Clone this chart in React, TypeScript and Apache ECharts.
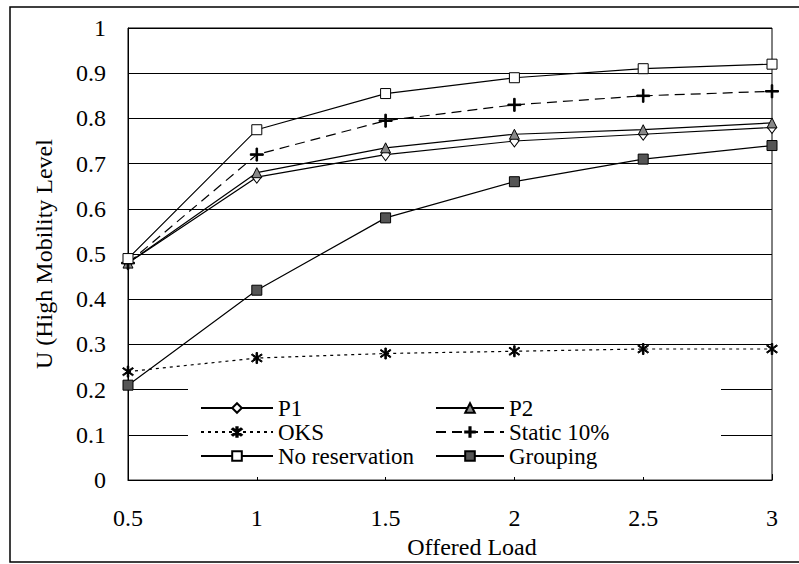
import React, { useEffect, useRef } from "react";
import * as echarts from "echarts";

// Offered load (x) and utilisation under high mobility (y) for each scheme
const offeredLoad = [0.5, 1, 1.5, 2, 2.5, 3];
const p1 = [0.48, 0.67, 0.72, 0.75, 0.765, 0.78];
const p2 = [0.48, 0.68, 0.735, 0.765, 0.775, 0.79];
const oks = [0.24, 0.27, 0.28, 0.285, 0.29, 0.29];
const static10 = [0.48, 0.72, 0.795, 0.83, 0.85, 0.86];
const noReservation = [0.49, 0.775, 0.855, 0.89, 0.91, 0.92];
const grouping = [0.21, 0.42, 0.58, 0.66, 0.71, 0.74];

const FONT = "'Liberation Serif', 'DejaVu Serif', serif";

const ASTERISK =
  "path://M4.4,0h1.2v10h-1.2zM0.6,2.1L1.4,1.3L9.4,7.9L8.6,8.7zM8.6,1.3L9.4,2.1L1.4,8.7L0.6,7.9z";
const PLUS = "path://M0,4.4h10v1.2h-10zM4.4,0h1.2v10h-1.2z";

const pairs = (ys: number[]) => offeredLoad.map((x, i) => [x, ys[i]]);

export default function App() {
  const ref = useRef<HTMLDivElement>(null);

  useEffect(() => {
    if (!ref.current) return;
    const chart = echarts.init(ref.current, undefined, { renderer: "svg" });

    const line = (
      name: string,
      ys: number[],
      symbol: string,
      symbolSize: number | number[],
      fill: string,
      type: any = "solid"
    ) => ({
      name,
      type: "line",
      data: pairs(ys),
      symbol,
      symbolSize,
      showAllSymbol: true,
      lineStyle: { color: "#000", width: 1.2, type },
      itemStyle: { color: fill, borderColor: "#000", borderWidth: 1 },
      emphasis: { disabled: true },
      z: 3,
    });

    const legendBase = {
      orient: "vertical",
      padding: 0,
      itemHeight: 12,
      itemGap: 0,
      textStyle: { fontFamily: FONT, fontSize: 23, color: "#000", lineHeight: 24 },
      selectedMode: false,
      z: 5,
    };

    chart.setOption({
      animation: false,
      backgroundColor: "#fff",
      grid: {
        left: 128,
        top: 28,
        right: 27,
        bottom: 81,
        show: true,
        borderColor: "#000",
        borderWidth: 1,
      },
      xAxis: {
        type: "value",
        min: 0.5,
        max: 3,
        interval: 0.5,
        name: "Offered Load",
        nameLocation: "middle",
        nameGap: 47,
        nameTextStyle: { fontFamily: FONT, fontSize: 24, color: "#000", padding: [0, 0, 0, 44] },
        axisLine: { lineStyle: { color: "#000", width: 1 } },
        axisTick: { show: true, inside: true, length: 6, lineStyle: { color: "#000" } },
        axisLabel: { fontFamily: FONT, fontSize: 24, color: "#000", margin: 26 },
        splitLine: { show: false },
      },
      yAxis: {
        type: "value",
        min: 0,
        max: 1,
        interval: 0.1,
        name: "U (High Mobility Level",
        nameLocation: "middle",
        nameGap: 72,
        nameTextStyle: { fontFamily: FONT, fontSize: 24, color: "#000" },
        axisLine: { show: true, lineStyle: { color: "#000", width: 1 } },
        axisTick: { show: false },
        axisLabel: {
          fontFamily: FONT,
          fontSize: 24,
          color: "#000",
          margin: 22,
          formatter: (v: number) => (v === 0 || v === 1 ? String(v) : v.toFixed(1)),
        },
        splitLine: { show: true, lineStyle: { color: "#000", width: 1 } },
      },
      legend: [
        {
          ...legendBase,
          left: 200,
          top: 396,
          itemWidth: 72,
          data: ["P1", "OKS", "No reservation"],
        },
        {
          ...legendBase,
          left: 435,
          top: 396,
          itemWidth: 68,
          data: ["P2", "Static 10%", "Grouping"],
        },
      ],
      graphic: [
        {
          type: "rect",
          z: 1,
          shape: { x: 188, y: 382, width: 533, height: 95 },
          style: { fill: "#fff" },
          silent: true,
        },
        {
          type: "rect",
          z: 10,
          shape: { x: 10, y: 7, width: 800, height: 555 },
          style: { fill: "none", stroke: "#000", lineWidth: 1.5 },
          silent: true,
        },
      ],
      series: [
        line("P1", p1, "diamond", [9, 12], "#fff"),
        line("P2", p2, "triangle", 10, "#888"),
        line("OKS", oks, ASTERISK, 11, "#000", [3, 4]),
        line("Static 10%", static10, PLUS, 13, "#000", [10, 6]),
        line("No reservation", noReservation, "rect", 10, "#fff"),
        line("Grouping", grouping, "rect", 10, "#555"),
      ],
    });

    return () => chart.dispose();
  }, []);

  return (
    <div
      ref={ref}
      style={{ position: "fixed", left: 0, top: 0, width: 799, height: 564 }}
    />
  );
}
